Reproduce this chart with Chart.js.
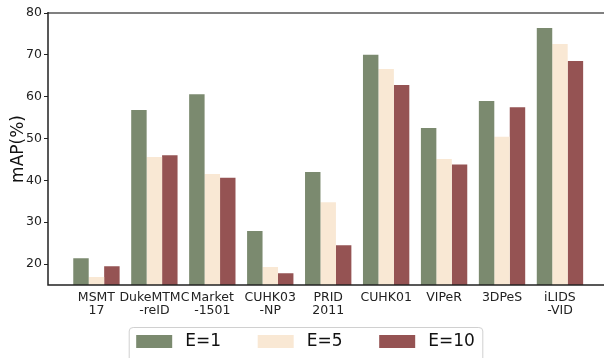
<!DOCTYPE html>
<html>
<head>
<meta charset="utf-8">
<script src="https://cdn.jsdelivr.net/npm/chart.js@4/dist/chart.umd.min.js"></script>
<style>
  html, body { margin: 0; padding: 0; background: #fff; overflow: hidden; }
  #wrap { position: relative; width: 604px; height: 358px; }
</style>
</head>
<body>
<div id="wrap"><canvas id="c"></canvas></div>
<script>
// Datasets evaluated
const categories = [
  ['MSMT', '17'], ['DukeMTMC', '-reID'], ['Market', '-1501'], ['CUHK03', '-NP'],
  ['PRID', '2011'], ['CUHK01'], ['VIPeR'], ['3DPeS'], ['iLIDS', '-VID']
];
// mAP (%) for each setting of E
const mapE1  = [21.4, 56.8, 60.6, 27.9, 42.0, 70.0, 52.5, 59.0, 76.4];
const mapE5  = [16.9, 45.6, 41.5, 19.3, 34.8, 66.6, 45.1, 50.4, 72.6];
const mapE10 = [19.5, 46.0, 40.6, 17.8, 24.5, 62.8, 43.8, 57.5, 68.5];
const seriesNames = ['E=1', 'E=5', 'E=10'];
const yTicks = [20, 30, 40, 50, 60, 70, 80];

const FONT = 'DejaVu Sans';
const colors = ['#7b8a6f', '#f9e8d4', '#955353'];

const toPoints = arr => arr.map((v, i) => ({ x: i, y: v }));

// Axis lines on left, bottom, and the lighter top edge
const spines = {
  id: 'spines',
  afterDraw(chart) {
    const { ctx, chartArea: a } = chart;
    ctx.save();
    ctx.lineCap = 'butt';
    ctx.strokeStyle = '#808080';
    ctx.lineWidth = 2;
    ctx.beginPath();
    ctx.moveTo(a.left, a.top);
    ctx.lineTo(a.right, a.top);
    ctx.stroke();
    ctx.strokeStyle = '#222';
    ctx.lineWidth = 1.5;
    ctx.beginPath();
    ctx.moveTo(a.left, a.top - 1);
    ctx.lineTo(a.left, a.bottom);
    ctx.lineTo(a.right, a.bottom);
    ctx.stroke();
    ctx.restore();
  }
};

// Framed legend row under the axis: patch, gap, name, spacing to next entry
const framedLegend = {
  id: 'framedLegend',
  afterDraw(chart) {
    const ctx = chart.ctx;
    const sets = chart.data.datasets;
    const patchW = 36, patchH = 13, textGap = 13, itemGap = 36.7;
    const midY = 341.5, centerX = 305.5;
    ctx.save();
    ctx.font = '17px "' + FONT + '"';
    const widths = sets.map(d => ctx.measureText(d.label).width);
    const total = widths.reduce((s, w) => s + patchW + textGap + w, 0) + itemGap * (sets.length - 1);
    let x = centerX - total / 2;
    const x0 = x - 7, x1 = x + total + 8, y0 = 327, y1 = 362, r = 4;
    ctx.strokeStyle = '#d0d0d0';
    ctx.lineWidth = 1;
    ctx.beginPath();
    ctx.moveTo(x0 + r, y0 + 0.5);
    ctx.lineTo(x1 - r, y0 + 0.5);
    ctx.quadraticCurveTo(x1, y0 + 0.5, x1, y0 + r);
    ctx.lineTo(x1, y1 - r);
    ctx.quadraticCurveTo(x1, y1, x1 - r, y1);
    ctx.lineTo(x0 + r, y1);
    ctx.quadraticCurveTo(x0, y1, x0, y1 - r);
    ctx.lineTo(x0, y0 + r);
    ctx.quadraticCurveTo(x0, y0 + 0.5, x0 + r, y0 + 0.5);
    ctx.stroke();
    ctx.textBaseline = 'middle';
    ctx.textAlign = 'left';
    sets.forEach((d, k) => {
      ctx.fillStyle = d.backgroundColor;
      ctx.fillRect(x, midY - patchH / 2, patchW, patchH);
      ctx.fillStyle = '#111';
      ctx.fillText(d.label, x + patchW + textGap, midY + 0.5);
      x += patchW + textGap + widths[k] + itemGap;
    });
    ctx.restore();
  }
};

new Chart(document.getElementById('c'), {
  type: 'bar',
  data: {
    datasets: [mapE1, mapE5, mapE10].map((d, k) => ({
      label: seriesNames[k],
      data: toPoints(d),
      backgroundColor: colors[k],
      borderWidth: 0,
      categoryPercentage: 0.8,
      barPercentage: 1.0
    }))
  },
  options: {
    responsive: true,
    maintainAspectRatio: false,
    animation: false,
    layout: { padding: { top: 13, right: 0, left: 0, bottom: 31 } },
    plugins: {
      tooltip: { enabled: false },
      legend: { display: false }
    },
    scales: {
      x: {
        type: 'linear',
        min: -0.836,
        max: 8.76,
        offset: false,
        grid: { display: false },
        border: { display: false },
        afterFit(s) { s.height = 42; },
        ticks: {
          stepSize: 1,
          includeBounds: false,
          autoSkip: false,
          maxRotation: 0,
          padding: -1.5,
          color: '#222',
          font: { family: FONT, size: 12.5, lineHeight: 1.03 },
          callback: v => (Number.isInteger(v) && categories[v]) ? categories[v] : ''
        }
      },
      y: {
        min: 15,
        max: 80,
        afterFit(s) { s.width = 48; },
        afterBuildTicks(s) { s.ticks = yTicks.map(v => ({ value: v })); },
        grid: { drawOnChartArea: false, drawTicks: true, tickLength: 4, color: '#222', lineWidth: 1 },
        border: { display: false },
        title: {
          display: true,
          text: 'mAP(%)',
          color: '#111',
          font: { family: FONT, size: 17 },
          padding: { top: 8, bottom: 0 }
        },
        ticks: {
          color: '#222',
          padding: 2,
          font: { family: FONT, size: 12.5 }
        }
      }
    }
  },
  plugins: [spines, framedLegend]
});
</script>
</body>
</html>
